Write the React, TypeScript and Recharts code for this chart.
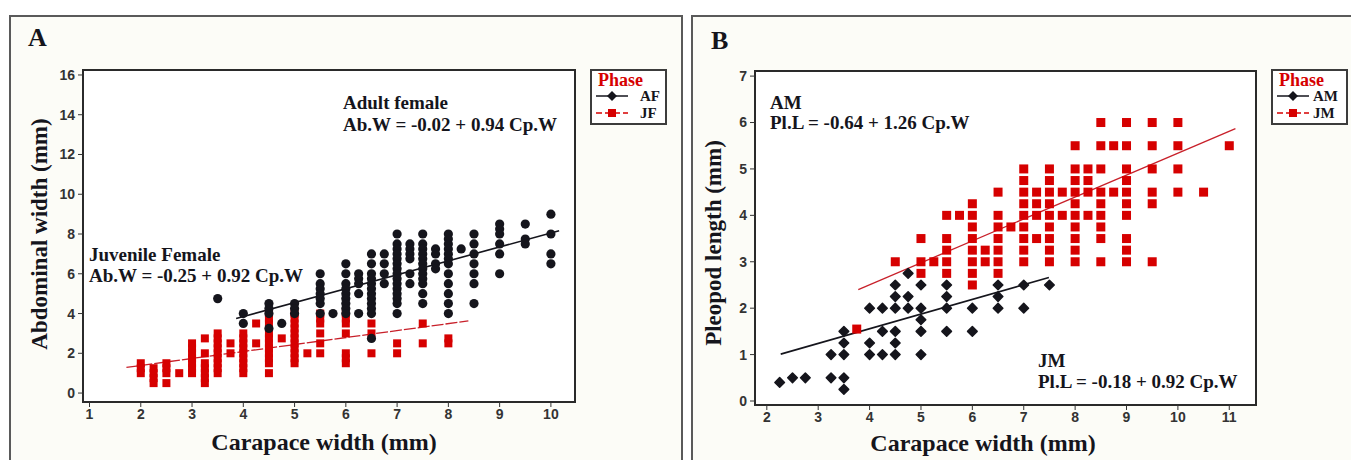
import React from "react";
import { ScatterChart, Scatter, XAxis, YAxis, ReferenceArea, ReferenceLine } from "recharts";

type Column = [number, number[]];

// panel A: abdominal width vs carapace width, females (x, [y values in that column])
const afColumns: Column[] = [
  [3.5, [4.75]],
  [4, [4.0, 3.5]],
  [4.5, [4.5, 4.25, 4.0, 3.25]],
  [4.75, [3.5]],
  [5, [4.5, 4.25, 4.0]],
  [5.5, [6.0, 5.5, 5.25, 5.0, 4.75, 4.5, 4.0]],
  [5.75, [4.0]],
  [6, [6.5, 6.0, 5.5, 5.25, 5.0, 4.75, 4.5, 4.25, 4.0]],
  [6.25, [6.0, 5.75, 5.5, 5.0, 4.0]],
  [6.5, [7.0, 6.5, 6.0, 5.75, 5.5, 5.25, 5.0, 4.75, 4.5, 4.25, 4.0, 2.75]],
  [6.75, [7.0, 6.5, 6.0, 5.5]],
  [7, [8.0, 7.5, 7.25, 7.0, 6.75, 6.5, 6.25, 6.0, 5.75, 5.5, 5.25, 5.0, 4.75, 4.5, 4.0]],
  [7.25, [7.5, 7.25, 7.0, 6.75, 6.0, 5.5]],
  [7.5, [8.0, 7.5, 7.25, 7.0, 6.75, 6.5, 6.25, 6.0, 5.75, 5.5, 5.0, 4.5]],
  [7.75, [7.25, 7.0, 6.5, 6.25]],
  [8, [8.0, 7.75, 7.5, 7.25, 7.0, 6.75, 6.5, 6.0, 5.5, 5.0, 4.5, 4.0]],
  [8.25, [7.25]],
  [8.5, [8.0, 7.5, 7.0, 6.5, 6.0, 5.5, 4.5]],
  [9, [8.5, 8.25, 8.0, 7.5, 7.0, 6.0]],
  [9.5, [8.5, 7.75, 7.5]],
  [10, [9.0, 8.0, 7.0, 6.5]],
];

const jfColumns: Column[] = [
  [2, [1.5, 1.25, 1.0]],
  [2.25, [1.25, 1.0, 0.75, 0.5]],
  [2.5, [1.5, 1.25, 1.0, 0.5]],
  [2.75, [1.0]],
  [3, [2.5, 2.25, 2.0, 1.75, 1.5, 1.25, 1.0]],
  [3.25, [2.75, 2.0, 1.5, 1.25, 1.0, 0.75, 0.5]],
  [3.5, [3.0, 2.75, 2.5, 2.25, 2.0, 1.75, 1.5, 1.25, 1.0]],
  [3.75, [2.5, 2.0]],
  [4, [3.0, 2.75, 2.5, 2.25, 2.0, 1.75, 1.5, 1.25, 1.0]],
  [4.25, [3.5, 2.5]],
  [4.5, [4.0, 3.75, 3.5, 3.0, 2.75, 2.5, 2.25, 2.0, 1.75, 1.5, 1.0]],
  [4.75, [2.75]],
  [5, [4.0, 3.75, 3.5, 3.25, 3.0, 2.75, 2.5, 2.25, 2.0, 1.75, 1.5]],
  [5.25, [2.0]],
  [5.5, [4.0, 3.75, 3.5, 3.0, 2.5, 2.0]],
  [6, [4.0, 3.75, 3.5, 3.0, 2.0, 1.75, 1.5]],
  [6.5, [3.5, 3.0, 2.0]],
  [7, [2.5, 2.0]],
  [7.5, [3.5, 2.5]],
  [8, [2.75, 2.5]],
];

const afFit = [{ x: 3.86, y: 3.75 }, { x: 10.16, y: 8.16 }];
const jfFit = [{ x: 1.72, y: 1.29 }, { x: 8.39, y: 3.63 }];
const xTicksA = [1, 2, 3, 4, 5, 6, 7, 8, 9, 10];
const yTicksA = [0, 2, 4, 6, 8, 10, 12, 14, 16];

// panel B: pleopod length vs carapace width, males
const amColumns: Column[] = [
  [2.25, [0.4]],
  [2.5, [0.5]],
  [2.75, [0.5]],
  [3.25, [1.0, 0.5]],
  [3.5, [1.5, 1.25, 1.0, 0.5, 0.25]],
  [4, [2.0, 1.25, 1.0]],
  [4.25, [2.0, 1.5, 1.0]],
  [4.5, [2.5, 2.25, 2.0, 1.5, 1.25, 1.0]],
  [4.75, [2.75, 2.25, 2.0]],
  [5, [2.5, 2.0, 1.75, 1.5, 1.0]],
  [5.5, [2.5, 2.25, 2.0, 1.5]],
  [6, [2.0, 1.5]],
  [6.5, [2.5, 2.25, 2.0]],
  [7, [2.5, 2.0]],
  [7.5, [2.5]],
];

const jmColumns: Column[] = [
  [3.75, [1.55]],
  [4.5, [3.0]],
  [5, [3.5, 3.0, 2.75]],
  [5.25, [3.0]],
  [5.5, [4.0, 3.5, 3.25, 3.0, 2.75]],
  [5.75, [4.0]],
  [6, [4.25, 4.0, 3.75, 3.5, 3.25, 3.0, 2.75, 2.5]],
  [6.25, [3.25, 3.0]],
  [6.5, [4.5, 4.0, 3.75, 3.5, 3.25, 3.0, 2.75]],
  [6.75, [3.75]],
  [7, [5.0, 4.75, 4.5, 4.25, 4.0, 3.75, 3.5, 3.25, 3.0]],
  [7.25, [4.5, 4.25, 4.0, 3.5]],
  [7.5, [5.0, 4.75, 4.5, 4.25, 4.0, 3.75, 3.5, 3.25, 3.0]],
  [7.75, [4.5, 4.0]],
  [8, [5.5, 5.0, 4.75, 4.5, 4.25, 4.0, 3.75, 3.5, 3.25, 3.0]],
  [8.25, [5.0, 4.75, 4.5, 4.0]],
  [8.5, [6.0, 5.5, 5.0, 4.5, 4.25, 4.0, 3.75, 3.5, 3.0]],
  [8.75, [5.5, 4.5]],
  [9, [6.0, 5.5, 5.0, 4.75, 4.5, 4.25, 4.0, 3.5, 3.25, 3.0]],
  [9.5, [6.0, 5.5, 5.0, 4.5, 4.25, 3.0]],
  [10, [6.0, 5.5, 5.0, 4.5]],
  [10.5, [4.5]],
  [11, [5.5]],
];

const amFit = [{ x: 2.27, y: 1.01 }, { x: 7.49, y: 2.66 }];
const jmFit = [{ x: 3.78, y: 2.4 }, { x: 11.12, y: 5.87 }];
const xTicksB = [2, 3, 4, 5, 6, 7, 8, 9, 10, 11];
const yTicksB = [0, 1, 2, 3, 4, 5, 6, 7];

const RED = "#d60000";
const INK = "#15151c";
const SERIF = '"Liberation Serif", "Times New Roman", serif';
const SANS = '"Liberation Sans", Arial, sans-serif';

const toPoints = (cols: Column[]) => cols.flatMap(([x, ys]) => ys.map((y) => ({ x, y })));

const dot = (r: number) => (p: any) => <circle cx={p.cx} cy={p.cy} r={r} fill={INK} />;
const diamond = (s: number) => (p: any) => (
  <path
    d={`M${p.cx},${p.cy - s}L${p.cx + s},${p.cy}L${p.cx},${p.cy + s}L${p.cx - s},${p.cy}Z`}
    fill={INK}
    stroke={INK}
    strokeWidth={1.5}
    strokeLinejoin="round"
  />
);
const square = (s: number) => (p: any) => (
  <rect x={p.cx - s / 2} y={p.cy - s / 2} width={s} height={s} fill={RED} />
);

const tickStyle = { fontSize: 14, fill: "#333", fontFamily: SANS, fontWeight: 700 };

function Txt({ x, y, size, color = INK, children }: any) {
  return (
    <div
      style={{
        position: "absolute",
        left: x,
        top: y - size * 0.56,
        fontFamily: SERIF,
        fontWeight: 700,
        fontSize: size,
        lineHeight: `${size * 1.12}px`,
        color,
        whiteSpace: "nowrap",
      }}
    >
      {children}
    </div>
  );
}

function VTxt({ x, y, size, children }: any) {
  return (
    <div
      style={{
        position: "absolute",
        left: x,
        top: y,
        transform: "translate(-50%, -50%) rotate(-90deg)",
        fontFamily: SERIF,
        fontWeight: 700,
        fontSize: size,
        lineHeight: 1,
        color: INK,
        whiteSpace: "nowrap",
      }}
    >
      {children}
    </div>
  );
}

function LegendBox({ left, top, textX, rows }: any) {
  return (
    <div
      style={{
        position: "absolute",
        left,
        top,
        width: 77,
        height: 56,
        boxSizing: "border-box",
        border: "2px solid #3c3c3c",
        background: "#fff",
      }}
    >
      <Txt x={6} y={9} size={18} color={RED}>Phase</Txt>
      {rows.map((r: any, i: number) => (
        <React.Fragment key={r.name}>
          <svg style={{ position: "absolute", left: 2, top: 18 + i * 17 }} width={36} height={14}>
            <line x1={2} x2={34} y1={7} y2={7} stroke={r.color} strokeWidth={1.5} strokeDasharray={r.dash} />
            {r.square ? (
              <rect x={14} y={3} width={8} height={8} fill={r.color} />
            ) : (
              <path d="M18,2L23,7L18,12L13,7Z" fill={r.color} />
            )}
          </svg>
          <Txt x={textX} y={25 + i * 17} size={15}>{r.name}</Txt>
        </React.Fragment>
      ))}
    </div>
  );
}

function FemalePanel() {
  const xd: [number, number] = [0.873, 10.47];
  const yd: [number, number] = [-0.45, 16.25];
  return (
    <div style={{ position: "absolute", left: 0, top: 0 }}>
      <ScatterChart width={690} height={460} margin={{ top: 70, right: 115, bottom: 28, left: 53 }}>
        <ReferenceArea x1={xd[0]} x2={xd[1]} y1={yd[0]} y2={yd[1]} fill="#fff" fillOpacity={1} stroke="#2a2a2a" strokeWidth={2} />
        <XAxis type="number" dataKey="x" domain={xd} ticks={xTicksA} allowDataOverflow axisLine={false}
          tickSize={5} tickMargin={2} tickLine={{ stroke: "#333" }} tick={tickStyle} height={30} />
        <YAxis type="number" dataKey="y" domain={yd} ticks={yTicksA} allowDataOverflow axisLine={false}
          tickSize={5} tickMargin={3} tickLine={{ stroke: "#333" }} tick={tickStyle} width={30} />
        <Scatter data={toPoints(jfColumns)} shape={square(8)} isAnimationActive={false} />
        <Scatter data={toPoints(afColumns)} shape={dot(4.6)} isAnimationActive={false} />
        <ReferenceLine segment={jfFit} stroke="#c8202a" strokeWidth={1.3} strokeDasharray="12 2" />
        <ReferenceLine segment={afFit} stroke={INK} strokeWidth={1.6} />
      </ScatterChart>
    </div>
  );
}

function MalePanel() {
  const xd: [number, number] = [1.77, 11.52];
  const yd: [number, number] = [-0.086, 7.11];
  return (
    <div style={{ position: "absolute", left: 690, top: 0 }}>
      <ScatterChart width={661} height={460} margin={{ top: 71, right: 95, bottom: 25, left: 35 }}>
        <ReferenceArea x1={xd[0]} x2={xd[1]} y1={yd[0]} y2={yd[1]} fill="#fff" fillOpacity={1} stroke="#2a2a2a" strokeWidth={2} />
        <XAxis type="number" dataKey="x" domain={xd} ticks={xTicksB} allowDataOverflow axisLine={false}
          tickSize={5} tickMargin={2} tickLine={{ stroke: "#333" }} tick={tickStyle} height={30} />
        <YAxis type="number" dataKey="y" domain={yd} ticks={yTicksB} allowDataOverflow axisLine={false}
          tickSize={5} tickMargin={3} tickLine={{ stroke: "#333" }} tick={tickStyle} width={30} />
        <Scatter data={toPoints(amColumns)} shape={diamond(4.8)} isAnimationActive={false} />
        <Scatter data={toPoints(jmColumns)} shape={square(9)} isAnimationActive={false} />
        <ReferenceLine segment={jmFit} stroke="#c8202a" strokeWidth={1.3} />
        <ReferenceLine segment={amFit} stroke={INK} strokeWidth={1.6} />
      </ScatterChart>
    </div>
  );
}

const panelFrame = {
  position: "absolute" as const,
  top: 15,
  height: 470,
  boxSizing: "border-box" as const,
  border: "2px solid #5a5a5a",
  background: "#fcfcf7",
};

export default function App() {
  return (
    <div style={{ position: "absolute", left: 0, top: 0, width: 1351, height: 460, overflow: "hidden", background: "#fff" }}>
      <div style={{ ...panelFrame, left: 9, width: 674 }} />
      <div style={{ ...panelFrame, left: 691, width: 680 }} />

      <FemalePanel />
      <MalePanel />

      {/* panel A text */}
      <Txt x={28} y={38} size={26}>A</Txt>
      <Txt x={343} y={103} size={19}>Adult female</Txt>
      <Txt x={343} y={125} size={19}>Ab.W = -0.02 + 0.94 Cp.W</Txt>
      <Txt x={89} y={255} size={19}>Juvenile Female</Txt>
      <Txt x={89} y={276} size={19}>Ab.W = -0.25 + 0.92 Cp.W</Txt>
      <VTxt x={39} y={234} size={23}>Abdominal width (mm)</VTxt>
      <div style={{ position: "absolute", left: 324, top: 442, transform: "translate(-50%, -50%)", fontFamily: SERIF, fontWeight: 700, fontSize: 24, lineHeight: 1, color: INK, whiteSpace: "nowrap" }}>
        Carapace width (mm)
      </div>
      <LegendBox
        left={590}
        top={69}
        textX={48}
        rows={[
          { name: "AF", color: INK },
          { name: "JF", color: RED, square: true, dash: "6 3" },
        ]}
      />

      {/* panel B text */}
      <Txt x={711} y={41} size={26}>B</Txt>
      <Txt x={770} y={103} size={19}>AM</Txt>
      <Txt x={770} y={123} size={19}>Pl.L = -0.64 + 1.26 Cp.W</Txt>
      <Txt x={1038} y={361} size={19}>JM</Txt>
      <Txt x={1038} y={382} size={19}>Pl.L = -0.18 + 0.92 Cp.W</Txt>
      <VTxt x={713} y={243} size={23}>Pleopod length (mm)</VTxt>
      <div style={{ position: "absolute", left: 983, top: 443, transform: "translate(-50%, -50%)", fontFamily: SERIF, fontWeight: 700, fontSize: 24, lineHeight: 1, color: INK, whiteSpace: "nowrap" }}>
        Carapace width (mm)
      </div>
      <LegendBox
        left={1271}
        top={69}
        textX={40}
        rows={[
          { name: "AM", color: INK },
          { name: "JM", color: RED, square: true, dash: "6 3" },
        ]}
      />
    </div>
  );
}
